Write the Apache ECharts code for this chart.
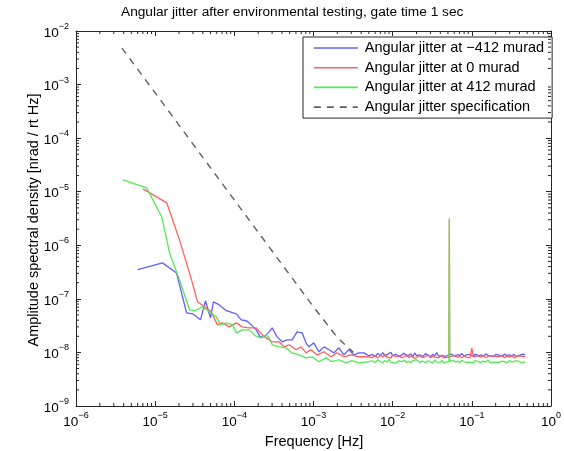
<!DOCTYPE html>
<html><head><meta charset="utf-8">
<script src="https://cdn.jsdelivr.net/npm/echarts@6/dist/echarts.min.js"></script>
<style>html,body{margin:0;padding:0;background:#fff}#c{width:564px;height:451px}</style>
</head><body><div id="c"></div>
<script>
const titleText = 'Angular jitter after environmental testing, gate time 1 sec';
const xName = 'Frequency [Hz]';
const yName = 'Amplitude spectral density [nrad / rt Hz]';
const seriesNames = ['Angular jitter at \u2212412 murad', 'Angular jitter at 0 murad', 'Angular jitter at 412 murad', 'Angular jitter specification'];
const xTickExps = [-6, -5, -4, -3, -2, -1, 0];
const yTickExps = [-9, -8, -7, -6, -5, -4, -3, -2];

// low / mid frequency part of each trace
const blueF = [6.0e-6,1.24e-5,1.86e-5,2.49e-5,2.96e-5,3.74e-5,4.32e-5,5.0e-5,5.44e-5,6.47e-5,7.93e-5,1.06e-4,1.22e-4,1.42e-4,1.64e-4,1.89e-4,2.12e-4,2.38e-4,2.75e-4,3.01e-4,3.47e-4,4.02e-4,4.64e-4,5.37e-4,6.2e-4,7.17e-4,8.05e-4,8.78e-4,1.01e-3,1.17e-3,1.36e-3,1.57e-3,1.81e-3,2.09e-3,2.42e-3,2.8e-3,3.23e-3,3.73e-3,4.32e-3,5.0e-3];
const blueA = [3.5e-7,4.7e-7,3.05e-7,5.5e-8,5.25e-8,4.06e-8,9.2e-8,4.4e-8,8.8e-8,7.7e-8,6.0e-8,5.25e-8,4.06e-8,3.9e-8,3.27e-8,2.64e-8,1.95e-8,1.95e-8,2.42e-8,2.88e-8,1.95e-8,1.58e-8,1.72e-8,1.72e-8,2.42e-8,2.32e-8,1.51e-8,1.27e-8,1.51e-8,1.03e-8,1.27e-8,1.12e-8,9.8e-9,1.22e-8,9.0e-9,1.12e-8,9.0e-9,9.8e-9,9.8e-9,8.65e-9];

const redF = [7.0e-6,1.40e-5,2.03e-5,2.88e-5,3.43e-5,4.2e-5,5.14e-5,6.11e-5,7.06e-5,8.65e-5,1.06e-4,1.26e-4,1.55e-4,1.89e-4,2.25e-4,2.53e-4,3.01e-4,3.68e-4,4.26e-4,4.92e-4,6.03e-4,6.97e-4,8.05e-4,9.3e-4,1.11e-3,1.36e-3,1.66e-3,1.98e-3,2.42e-3,2.96e-3,3.73e-3,5.0e-3];
const redA = [1.13e-5,6.2e-6,1.26e-6,2.26e-7,8.8e-8,7.1e-8,5.7e-8,3.27e-8,3.57e-8,3.0e-8,3.57e-8,3.0e-8,2.88e-8,2.88e-8,2.13e-8,1.87e-8,1.58e-8,1.58e-8,1.27e-8,1.39e-8,1.12e-8,1.27e-8,9.8e-9,1.12e-8,9.0e-9,1.03e-8,8.3e-9,9.8e-9,8.3e-9,9.0e-9,8.3e-9,8.3e-9];

const greenF = [3.9e-6,7.8e-6,1.21e-5,1.52e-5,2.03e-5,2.72e-5,3.14e-5,3.96e-5,4.85e-5,5.94e-5,6.67e-5,7.93e-5,9.44e-5,1.06e-4,1.26e-4,1.55e-4,1.84e-4,2.19e-4,2.53e-4,2.75e-4,3.01e-4,3.68e-4,4.51e-4,5.37e-4,6.57e-4,8.05e-4,9.58e-4,1.17e-3,1.44e-3,1.71e-3,2.09e-3,2.56e-3,3.05e-3,3.73e-3,5.0e-3];
const greenA = [1.66e-5,1.18e-5,3.4e-6,7.2e-7,2.26e-7,6.2e-8,6.0e-8,7.1e-8,5.7e-8,4.6e-8,3.27e-8,3.57e-8,3.27e-8,2.32e-8,2.64e-8,2.64e-8,2.04e-8,1.87e-8,2.13e-8,1.87e-8,1.39e-8,1.27e-8,1.22e-8,9.8e-9,9.0e-9,7.9e-9,8.3e-9,6.7e-9,7.9e-9,6.7e-9,7.3e-9,6.4e-9,7.0e-9,6.4e-9,6.7e-9];

// noise floor part (shared frequency grid)
const floorF = [0.0055,0.006,0.0065,0.007,0.0075,0.008,0.0085,0.009,0.0095,0.010,
0.011,0.012,0.013,0.014,0.015,0.016,0.017,0.018,0.019,0.020,
0.022,0.024,0.026,0.028,0.030,0.032,0.034,0.036,0.038,0.040,
0.042,0.044,0.046,0.048,0.050,0.0515,0.052,0.0525,0.055,0.058,
0.062,0.066,0.070,0.075,0.080,0.085,0.090,0.095,0.100,0.105,
0.11,0.12,0.13,0.14,0.15,0.16,0.17,0.18,0.19,0.20,
0.22,0.24,0.26,0.28,0.30,0.32,0.34,0.36,0.38,0.40,
0.42,0.44,0.46,0.47];
const blueFloor = [9.2e-9,8.4e-9,9.6e-9,8.7e-9,9.9e-9,8.5e-9,9.1e-9,8.8e-9,1.01e-8,8.6e-9,
9.3e-9,8.3e-9,9.0e-9,9.7e-9,8.5e-9,8.9e-9,9.4e-9,8.2e-9,9.8e-9,8.7e-9,
9.0e-9,8.4e-9,9.5e-9,8.8e-9,8.3e-9,9.2e-9,8.6e-9,9.9e-9,8.5e-9,9.1e-9,
8.7e-9,9.4e-9,8.4e-9,9.0e-9,8.8e-9,8.6e-9,9.2e-9,8.5e-9,9.3e-9,8.7e-9,
8.4e-9,9.1e-9,8.8e-9,9.5e-9,8.5e-9,9.0e-9,8.6e-9,9.2e-9,8.9e-9,8.4e-9,
9.3e-9,8.7e-9,9.0e-9,8.5e-9,9.4e-9,8.8e-9,8.6e-9,9.1e-9,8.4e-9,9.2e-9,
8.9e-9,8.5e-9,9.3e-9,8.7e-9,9.0e-9,8.6e-9,9.2e-9,8.4e-9,9.1e-9,8.8e-9,
8.6e-9,9.3e-9,8.7e-9,9.0e-9];
const redFloor = [8.0e-9,8.7e-9,7.9e-9,8.9e-9,8.2e-9,9.3e-9,8.1e-9,8.6e-9,7.8e-9,9.0e-9,
8.3e-9,8.8e-9,7.9e-9,8.4e-9,9.1e-9,8.0e-9,8.5e-9,8.9e-9,7.8e-9,8.3e-9,
8.7e-9,8.0e-9,8.4e-9,9.0e-9,7.9e-9,8.5e-9,8.2e-9,8.8e-9,8.0e-9,8.4e-9,
8.9e-9,7.9e-9,8.6e-9,8.1e-9,8.5e-9,8.2e-9,3.0e-6,8.3e-9,8.0e-9,8.6e-9,
8.9e-9,8.1e-9,8.4e-9,8.0e-9,8.7e-9,8.2e-9,8.5e-9,7.9e-9,1.2e-8,8.3e-9,
8.0e-9,8.6e-9,8.2e-9,8.8e-9,8.0e-9,8.4e-9,8.7e-9,8.1e-9,8.5e-9,7.9e-9,
8.3e-9,8.8e-9,8.0e-9,8.5e-9,8.2e-9,8.7e-9,7.9e-9,8.4e-9,8.6e-9,8.1e-9,
8.5e-9,8.0e-9,8.4e-9,8.2e-9];
const greenFloor = [7.0e-9,6.5e-9,7.3e-9,6.7e-9,6.4e-9,7.1e-9,6.6e-9,7.4e-9,6.5e-9,6.9e-9,
6.3e-9,7.0e-9,6.7e-9,7.2e-9,6.5e-9,6.8e-9,6.4e-9,7.1e-9,6.6e-9,7.3e-9,
6.5e-9,6.9e-9,6.4e-9,7.0e-9,6.7e-9,6.3e-9,7.2e-9,6.6e-9,6.9e-9,6.5e-9,
7.1e-9,6.4e-9,6.8e-9,6.6e-9,7.0e-9,6.7e-9,3.2e-6,6.8e-9,6.5e-9,7.1e-9,
6.6e-9,6.9e-9,6.4e-9,7.2e-9,6.7e-9,6.5e-9,7.0e-9,6.6e-9,6.8e-9,6.4e-9,
7.1e-9,6.7e-9,6.5e-9,6.9e-9,6.6e-9,7.2e-9,6.4e-9,6.8e-9,6.6e-9,7.0e-9,
6.5e-9,6.9e-9,6.7e-9,6.4e-9,7.1e-9,6.6e-9,6.8e-9,6.5e-9,7.0e-9,6.7e-9,
6.4e-9,6.9e-9,6.6e-9,6.8e-9];

const specF = [3.8e-6, 1e-5, 1e-4, 1e-3, 2e-3, 3.2e-3];
const specA = [4.8e-3, 7.0e-4, 7.0e-6, 7.1e-8, 1.9e-8, 1.0e-8];

const X_MIN = 1e-6, X_MAX = 1, Y_MIN = 1e-9, Y_MAX = 1e-2;

function pairs(f, a) { return f.map((x, i) => [x, a[i]]); }
const blueData = pairs(blueF, blueA).concat(pairs(floorF, blueFloor));
const redData = pairs(redF, redA).concat(pairs(floorF, redFloor));
const greenData = pairs(greenF, greenA).concat(pairs(floorF, greenFloor));
const specData = pairs(specF, specA);

// minor tick positions (2..9 x decade)
const xMinor = [], yMinor = [];
xTickExps.slice(0, -1).forEach(e => { for (let k = 2; k <= 9; k++) xMinor.push([k * Math.pow(10, e), Y_MIN]); });
yTickExps.slice(0, -1).forEach(e => { for (let k = 2; k <= 9; k++) yMinor.push([X_MIN, k * Math.pow(10, e)]); });

const FONT = 'Liberation Sans, Arial, sans-serif';
const AX = '#262626';
const rich = {
  b: { fontSize: 13.5, fontFamily: FONT, color: '#000', lineHeight: 18, verticalAlign: 'bottom' },
  s: { fontSize: 9, fontFamily: FONT, color: '#000', lineHeight: 18, verticalAlign: 'top' }
};
function expLabel(v) {
  const e = Math.round(Math.log10(v));
  return '{b|10}{s|' + (e < 0 ? '\u2212' + (-e) : e) + '}';
}
function baseAxis(extra) {
  return Object.assign({
    type: 'log', logBase: 10,
    axisLine: { show: true, lineStyle: { color: AX, width: 1 } },
    axisTick: { show: true, inside: true, length: 5, lineStyle: { color: AX } },
    splitLine: { show: false },
    minorTick: { show: false }
  }, extra);
}

const chart = echarts.init(document.getElementById('c'), null, { renderer: 'canvas' });
chart.setOption({
  animation: false,
  backgroundColor: '#fff',
  grid: { left: 76, right: 11, top: 31, bottom: 45, containLabel: false },
  xAxis: [
    baseAxis({ min: X_MIN, max: X_MAX, splitNumber: 6, position: 'bottom',
      axisLabel: { formatter: expLabel, rich: rich, margin: 5, showMinLabel: true, showMaxLabel: true } }),
    baseAxis({ min: X_MIN, max: X_MAX, splitNumber: 6, position: 'top', axisLabel: { show: false } })
  ],
  yAxis: [
    baseAxis({ min: Y_MIN, max: Y_MAX, splitNumber: 7, position: 'left',
      axisLabel: { formatter: expLabel, rich: rich, margin: 7, showMinLabel: true, showMaxLabel: true } }),
    baseAxis({ min: Y_MIN, max: Y_MAX, splitNumber: 7, position: 'right', axisLabel: { show: false } })
  ],
  legend: {
    data: seriesNames,
    orient: 'vertical', left: 303, top: 37,
    itemWidth: 44, itemHeight: 14, itemGap: 3.7,
    padding: [3, 8, 3, 10],
    backgroundColor: '#fff', borderColor: AX, borderWidth: 1,
    itemStyle: { opacity: 0 },
    lineStyle: { width: 1.6 },
    textStyle: { fontSize: 14.5, lineHeight: 16, fontFamily: FONT, color: '#000', padding: [0, 0, 0, 2] },
    selectedMode: false
  },
  graphic: [
    { type: 'text', left: 121, top: 5, style: { text: titleText, font: '13.7px ' + FONT, fill: '#000' } },
    { type: 'text', x: 314, y: 442, style: { text: xName, font: '14.5px ' + FONT, fill: '#000', align: 'center', verticalAlign: 'middle' } },
    { type: 'text', x: 34, y: 220, rotation: Math.PI / 2, style: { text: yName, font: '14.5px ' + FONT, fill: '#000', align: 'center', verticalAlign: 'middle' } }
  ],
  series: [
    { name: seriesNames[0], type: 'line', data: blueData, symbol: 'none', color: '#6060ff', lineStyle: { width: 1.3, color: '#6060ff' }, z: 3 },
    { name: seriesNames[1], type: 'line', data: redData, symbol: 'none', color: '#ff6060', lineStyle: { width: 1.3, color: '#ff6060' }, z: 4 },
    { name: seriesNames[2], type: 'line', data: greenData, symbol: 'none', color: '#55e855', lineStyle: { width: 1.3, color: '#55e855' }, z: 5 },
    { name: seriesNames[3], type: 'line', data: specData, symbol: 'none', color: '#606060', lineStyle: { width: 1.4, color: '#606060', type: [7, 6] }, z: 6 },
    { type: 'custom', silent: true, data: xMinor, z: 7,
      renderItem: function (params, api) {
        const x = api.value(0);
        const b = api.coord([x, Y_MIN]), t = api.coord([x, Y_MAX]);
        return { type: 'group', children: [
          { type: 'line', shape: { x1: b[0], y1: b[1], x2: b[0], y2: b[1] - 3 }, style: { stroke: AX, lineWidth: 1 } },
          { type: 'line', shape: { x1: t[0], y1: t[1], x2: t[0], y2: t[1] + 3 }, style: { stroke: AX, lineWidth: 1 } }
        ] };
      } },
    { type: 'custom', silent: true, data: yMinor, z: 7,
      renderItem: function (params, api) {
        const y = api.value(1);
        const l = api.coord([X_MIN, y]), r = api.coord([X_MAX, y]);
        return { type: 'group', children: [
          { type: 'line', shape: { x1: l[0], y1: l[1], x2: l[0] + 3, y2: l[1] }, style: { stroke: AX, lineWidth: 1 } },
          { type: 'line', shape: { x1: r[0], y1: r[1], x2: r[0] - 3, y2: r[1] }, style: { stroke: AX, lineWidth: 1 } }
        ] };
      } }
  ]
});
</script>
</body></html>
